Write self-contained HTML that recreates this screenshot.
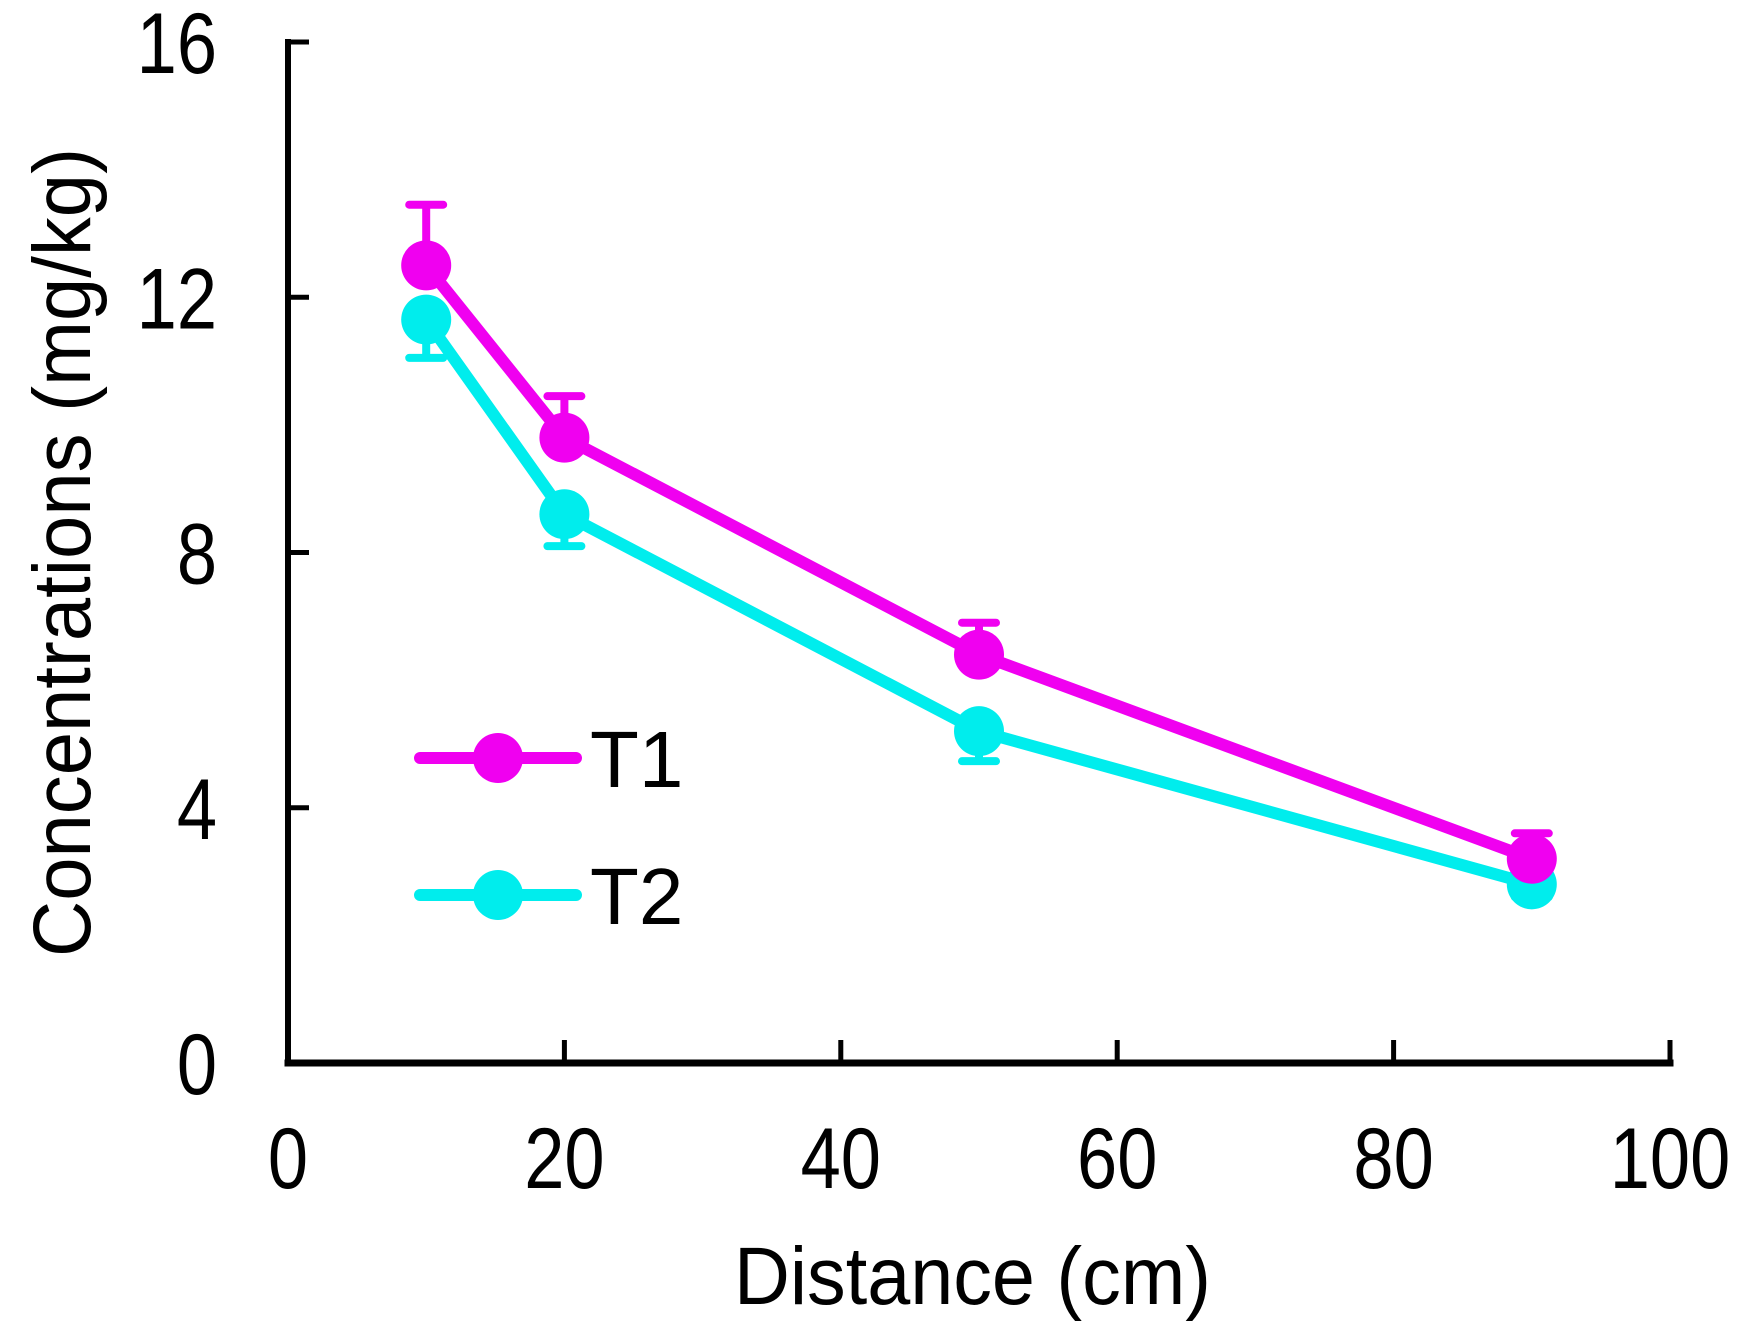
<!DOCTYPE html>
<html><head><meta charset="utf-8"><style>
html,body{margin:0;padding:0;background:#fff}
svg{display:block}
text{font-family:"Liberation Sans",Arial,sans-serif;fill:#000}
</style></head><body>
<svg id="chart" width="1750" height="1322" viewBox="0 0 1750 1322" xmlns="http://www.w3.org/2000/svg">
<g id="axes"></g>
<g id="series"></g>
<g id="legend"></g>
<text transform="translate(90,957) rotate(-90)" font-size="82" textLength="809" lengthAdjust="spacingAndGlyphs">Concentrations (mg/kg)</text>
<text x="734" y="1304" font-size="82" textLength="477" lengthAdjust="spacingAndGlyphs">Distance (cm)</text>
</svg>
<script>
const xValues = [10, 20, 50, 90];
const t1Values = [12.5, 9.8, 6.4, 3.2];
const t1Errors = [0.95, 0.65, 0.5, 0.4];
const t2Values = [11.65, 8.6, 5.2, 2.8];
const t2Errors = [0.6, 0.5, 0.47, 0.2];
const xTicks = [0, 20, 40, 60, 80, 100];
const yTicks = [0, 4, 8, 12, 16];

const NS = 'http://www.w3.org/2000/svg';
const X0 = 288, X1 = 1670, Y0 = 1063, Y1 = 42;
function sx(v){ return X0 + (v - 0) / 100 * (X1 - X0); }
function sy(v){ return Y0 - v / 16 * (Y0 - Y1); }
function mk(tag, attrs, parent){ const e = document.createElementNS(NS, tag); for (const k in attrs) e.setAttribute(k, attrs[k]); parent.appendChild(e); return e; }

const axes = document.getElementById('axes');
let el = mk('line', {x1:X0, y1:Y1, x2:X0, y2:Y0, stroke:'#000', 'stroke-width':6, 'stroke-linecap':'square'}, axes);


el = mk('line', {x1:X0, y1:Y0, x2:X1, y2:Y0, stroke:'#000', 'stroke-width':7, 'stroke-linecap':'square'}, axes);


yTicks.forEach(v => {
  const y = sy(v);
  const t = mk('line', {x1:X0, y1:y, x2:X0 + 21, y2:y, stroke:'#000', 'stroke-width':5}, axes);
  
  
  const l = mk('text', {x:0, y:0, 'font-size':86, 'text-anchor':'end', transform:`translate(217,${y + 31}) scale(0.84,1)`}, axes);
  l.textContent = v;
  
  
});
xTicks.forEach(v => {
  const x = sx(v);
  const t = mk('line', {x1:x, y1:Y0, x2:x, y2:Y0 - 23, stroke:'#000', 'stroke-width':5}, axes);
  
  
  const l = mk('text', {x:0, y:0, 'font-size':86, 'text-anchor':'middle', transform:`translate(${x},1188) scale(0.84,1)`}, axes);
  l.textContent = v;
  
  
});

const series = document.getElementById('series');
function drawSeries(vals, errs, color, name, up){
  const g = mk('g', {}, series);
  
  
  const pts = xValues.map((x, i) => sx(x) + ',' + sy(vals[i])).join(' ');
  const pl = mk('polyline', {points:pts, fill:'none', stroke:color, 'stroke-width':12, 'stroke-linejoin':'round'}, g);
  
  
  xValues.forEach((x, i) => {
    const cx = sx(x), cy = sy(vals[i]);
    const ey = up ? sy(vals[i] + errs[i]) : sy(vals[i] - errs[i]);
    const eb = mk('path', {d:`M${cx},${cy} L${cx},${ey} M${cx-17},${ey} L${cx+17},${ey}`, stroke:color, 'stroke-width':8, fill:'none', 'stroke-linecap':'round'}, g);
    
    
    const c = mk('circle', {cx:cx, cy:cy, r:25, fill:color}, g);
    
    
  });
}
drawSeries(t2Values, t2Errors, '#00eded', 't2', false);
drawSeries(t1Values, t1Errors, '#f000f0', 't1', true);

const legend = document.getElementById('legend');
[['T1', '#f000f0', 758, 't1'], ['T2', '#00eded', 895, 't2']].forEach(([lab, col, y, nm]) => {
  const g = mk('g', {}, legend);
  
  
  mk('line', {x1:420, y1:y, x2:576, y2:y, stroke:col, 'stroke-width':12, 'stroke-linecap':'round'}, g);
  mk('circle', {cx:498, cy:y, r:25, fill:col}, g);
  const t = mk('text', {x:590, y:y + 29, 'font-size':80}, g);
  t.textContent = lab;
});
</script>
</body></html>
